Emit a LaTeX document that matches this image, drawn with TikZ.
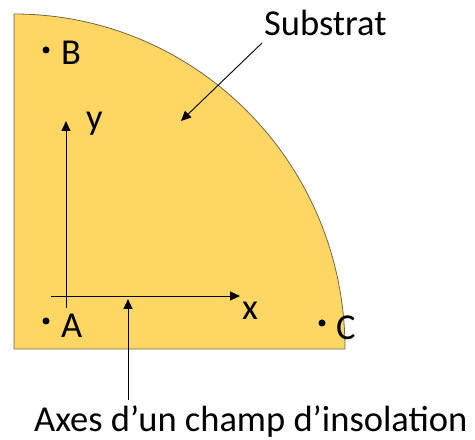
\documentclass[tikz,border=0pt]{standalone}
\usepackage{fontspec}
\setmainfont{Carlito}
\usetikzlibrary{arrows.meta}
\definecolor{gold}{HTML}{FDD663}
\definecolor{edge}{HTML}{756548}
\tikzset{
  lbl/.style={anchor=base west, inner sep=0pt, font=\fontsize{36.5}{40}\selectfont},
  arr/.style={draw=black, line width=0.9pt, -{Triangle[length=10pt,width=9pt]}},
  dotmark/.style={circle, fill=black, inner sep=0pt, minimum size=7pt}
}
\begin{document}
\begin{tikzpicture}[x=1pt,y=1pt]
\useasboundingbox (0,0) rectangle (475,440);
% substrate quarter disc
\draw[fill=gold, draw=edge, line width=0.8pt]
  (14,91) -- (14,426) arc[start angle=90, end angle=0, x radius=331pt, y radius=335pt] -- cycle;
% points
\node[dotmark] (dB) at (46,390) {};
\node[dotmark] (dA) at (46,119) {};
\node[dotmark] (dC) at (322,117) {};
\node[lbl] (B) at (61,375) {B};
\node[lbl] (A) at (61,102) {A};
\node[lbl] (C) at (336,100) {C};
% axes
\coordinate (yb) at (66,132);
\coordinate (yt) at (66,319);
\coordinate (xl) at (51,144);
\coordinate (xr) at (240,144);
\draw[arr] (yb) -- (yt);
\draw[arr] (xl) -- (xr);
\node[lbl] (ylab) at (86,310) {y};
\node[lbl] (xlab) at (242,120) {x};
% labels
\node[lbl] (sub) at (264,404) {Substrat};
\coordinate (subs) at (262,397);
\coordinate (subt) at (181,319);
\draw[arr] (subs) -- (subt);
\node[lbl] (axes) at (34,8) {Axes d’un champ d’insolation};
\coordinate (axs) at (128,40);
\coordinate (axt) at (128,141);
\draw[arr] (axs) -- (axt);
\end{tikzpicture}
\end{document}
